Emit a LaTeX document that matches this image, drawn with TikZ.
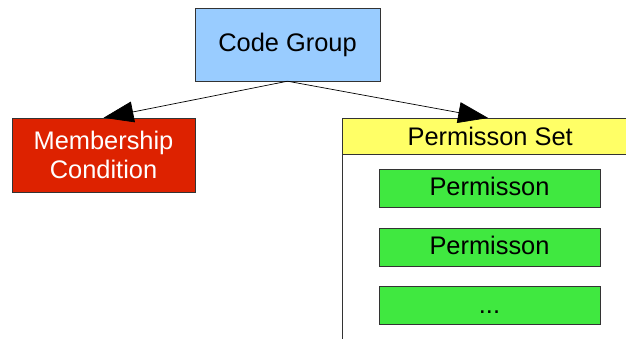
\documentclass[tikz,border=0pt]{standalone}
\usepackage{fontspec}
\setmainfont{Liberation Sans}
\usetikzlibrary{arrows.meta}
\definecolor{groupblue}{HTML}{99CCFF}
\definecolor{condred}{HTML}{DD2200}
\definecolor{setyellow}{HTML}{FFFF66}
\definecolor{permgreen}{HTML}{40E840}
\definecolor{edgegray}{HTML}{333333}

\begin{document}
\begin{tikzpicture} [x=1bp, y=-1bp,
  box/.style={draw=edgegray, inner sep=0pt, font=\fontsize{25.5}{29}\selectfont},
  permbox/.style={box, fill=permgreen, minimum width=221bp, minimum height=38bp, text height=19bp, text depth=4bp},
  link/.style={black, line width=0.7bp, -{Triangle[length=30bp,width=21bp]}}]
\useasboundingbox (0,0) rectangle (626,338);
\node[box, fill=groupblue, minimum width=185bp, minimum height=73bp] (group) at (287.5,44.5) {Code Group};
\node[box, fill=condred, text=white, align=center, minimum width=183bp, minimum height=74bp] (cond) at (103.5,155) {Membership\\Condition};
\node[box, fill=setyellow, minimum width=296bp, minimum height=36bp, anchor=north west] (set) at (342,118) {Permisson Set};
\draw[edgegray] (set.south west) -- (342,340);
\foreach \y/\t [count=\i] in {188/Permisson, 247/Permisson, 305.5/{{...}}} {
 \node[permbox] (perm\i) at (489.5,\y) {\t};
}
\draw[link] (group.south) -- (cond.north);
\draw[link] (group.south) -- ([xshift=-2bp]set.north);
\end{tikzpicture}
\end{document}
